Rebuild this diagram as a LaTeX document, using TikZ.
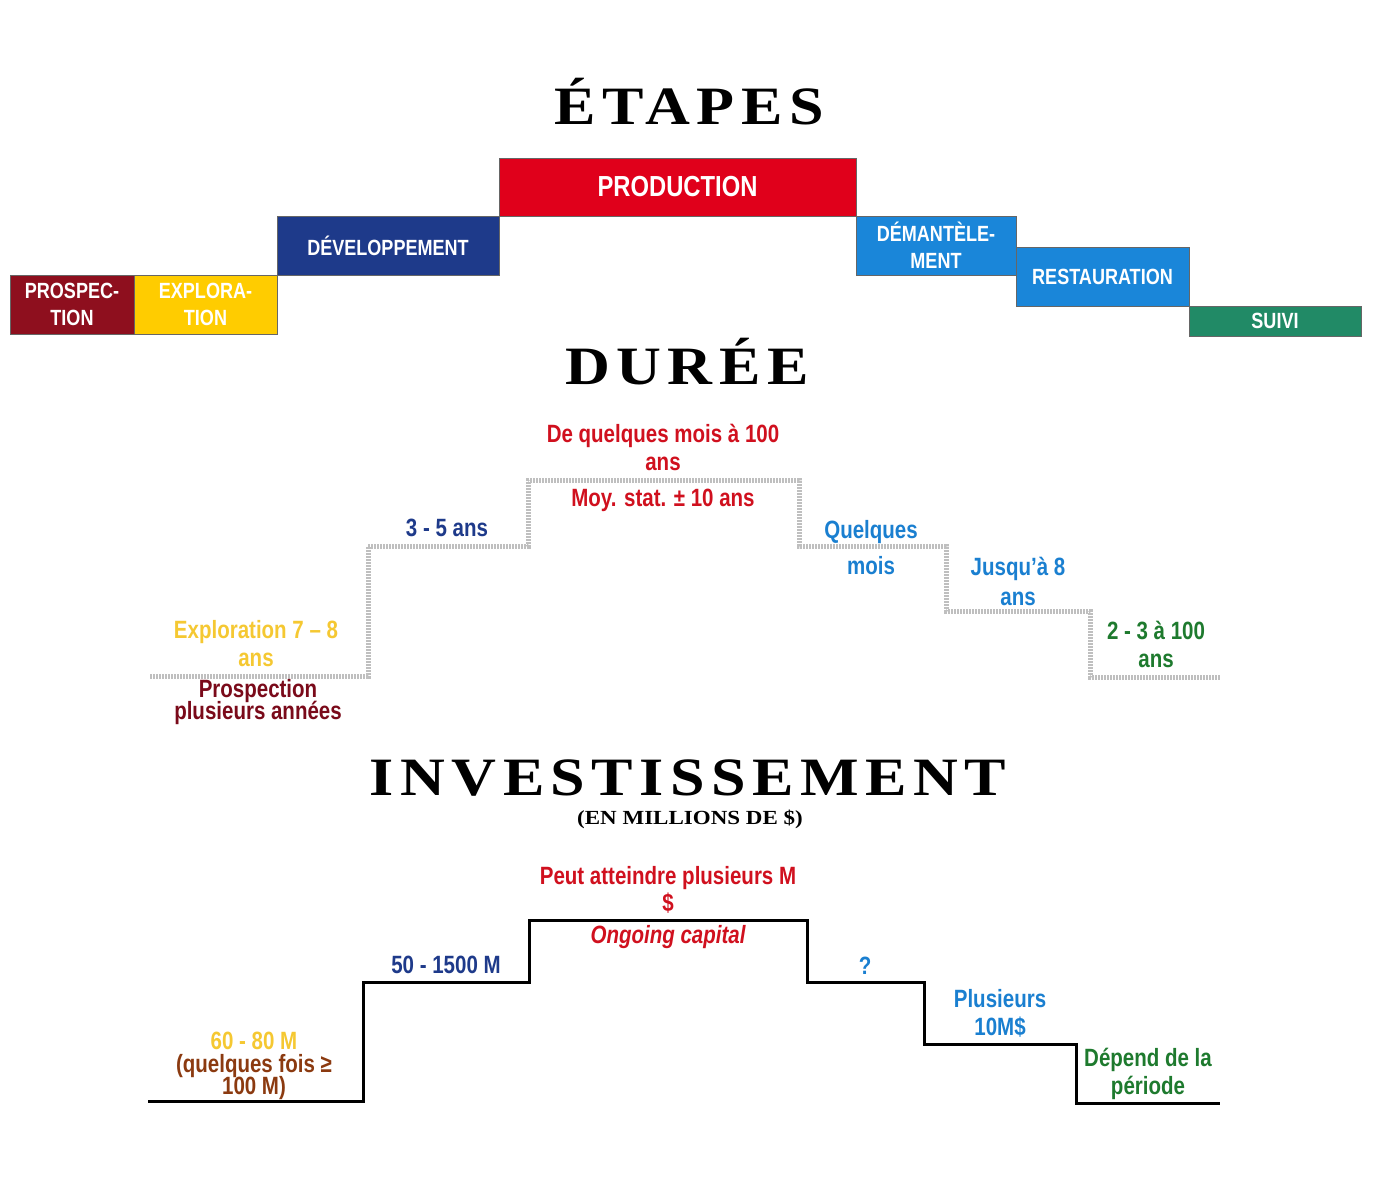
\documentclass[tikz,border=0pt]{standalone}
\usepackage{fontspec}
\setmainfont[FakeStretch=0.82]{Liberation Sans}
\newfontfamily\titlefont[FakeStretch=1.15,LetterSpace=12]{Liberation Serif}
\newfontfamily\subtitlefont[FakeStretch=1.15]{Liberation Serif}
\usetikzlibrary{positioning}

\definecolor{prospred}{RGB}{142,15,30}
\definecolor{exployellow}{RGB}{255,204,0}
\definecolor{devblue}{RGB}{30,58,138}
\definecolor{prodred}{RGB}{224,0,27}
\definecolor{demblue}{RGB}{26,134,217}
\definecolor{suivigreen}{RGB}{33,138,102}
\definecolor{txtred}{RGB}{208,16,30}
\definecolor{txtyellow}{RGB}{245,200,50}
\definecolor{txtdarkred}{RGB}{122,10,26}
\definecolor{txtblue}{RGB}{26,127,208}
\definecolor{txtgreen}{RGB}{30,122,46}
\definecolor{txtbrown}{RGB}{139,58,16}

\begin{document}
\setlength{\lineskiplimit}{-10pt}
\begin{tikzpicture}[x=0.5pt,y=-0.5pt,
  etape/.style={draw=black!60, line width=0.4pt, text=white, inner sep=0pt, outer sep=0pt, align=center,
    font=\bfseries\fontsize{11}{13.5}\selectfont, anchor=north west, minimum height=29.5pt},
  titre/.style={font=\titlefont\bfseries\fontsize{27}{30}\selectfont},
  lbl/.style={font=\bfseries\fontsize{12.5}{14}\selectfont, align=center},
  serre/.style={font=\bfseries\fontsize{12.5}{#1}\selectfont},
  duree/.style={draw=gray!50, line width=2.5pt, dash pattern=on 1pt off 0.5pt},
  invest/.style={draw=black, line width=1.5pt}
]
\useasboundingbox (0,0) rectangle (1374,1184);

\node[titre] (etapes) at (689,102) {ÉTAPES};
\node[titre] (duree) at (687,362) {DURÉE};
\node[titre] (investissement) at (688,778) {INVESTISSEMENT};
\node[font=\subtitlefont\bfseries\fontsize{10}{12}\selectfont] (millions) at (690,819) {(EN MILLIONS DE \$)};

\node[etape, fill=prospred, minimum width=62pt] (prosp) at (10,275) {PROSPEC-\\TION};
\node[etape, fill=exployellow, minimum width=71.5pt] (explo) at (prosp.north east) {EXPLORA-\\TION};
\node[etape, fill=devblue, minimum width=111pt, anchor=south west] (dev) at (explo.north east) {DÉVELOPPEMENT};
\node[etape, fill=prodred, minimum width=178.5pt, minimum height=29pt, anchor=south west,
  font=\bfseries\fontsize{14.5}{16}\selectfont] (prod) at (dev.north east) {PRODUCTION};
\node[etape, fill=demblue, minimum width=80pt] (dem) at (prod.south east) {DÉMANTÈLE-\\MENT};
\node[etape, fill=demblue, minimum width=86.5pt] (rest) at ([yshift=-15.5pt]dem.north east) {RESTAURATION};
\node[etape, fill=suivigreen, minimum width=86pt, minimum height=15pt] (suivi) at (rest.south east) {SUIVI};

\draw[duree] (150,676) -| (368,546) -| (528,480) -| (799,546) -| (946,611) -| (1090,677) -- (1220,677);

\node[lbl, text=txtred] (dq) at (663,447) {De quelques mois à 100\\ans};
\node[lbl, text=txtred] (moy) at (663,500) {Moy. stat. ± 10 ans};
\node[lbl, text=devblue] (tcans) at (447,528) {3 - 5 ans};
\node[lbl, text=txtblue, serre=18] (qmois) at (871,548) {Quelques\\mois};
\node[lbl, text=txtblue, serre=15] (jusq) at (1018,581) {Jusqu’à 8\\ans};
\node[lbl, text=txtgreen] (dtans) at (1156,644) {2 - 3 à 100\\ans};
\node[lbl, text=txtyellow] (exploans) at (256,643.5) {Exploration 7 – 8\\ans};
\node[lbl, text=txtdarkred, serre=11] (prospans) at (258,702) {Prospection\\plusieurs années};

\draw[invest] (148,1101) -| (363,982) -| (529,920) -| (807,982) -| (924,1044) -| (1076,1103) -- (1220,1103);

\node[lbl, text=txtred, serre=13.5] (peut) at (668,889.5) {Peut atteindre plusieurs M\\\$};
\node[lbl, text=txtred, font=\bfseries\itshape\fontsize{12.5}{14}\selectfont] (ongoing) at (668,937) {Ongoing capital};
\node[lbl, text=devblue] (cinq) at (446,965) {50 - 1500 M};
\node[lbl, text=txtblue] (inconnu) at (865,966) {?};
\node[lbl, text=txtblue] (plus) at (1000,1013) {Plusieurs\\10M\$};
\node[lbl, text=txtgreen] (depend) at (1148,1074) {Dépend de la\\période};
\node[lbl, text=txtyellow] (soixante) at (254,1041) {60 - 80 M};
\node[lbl, text=txtbrown, serre=11] (fois) at (254,1077) {(quelques fois ≥\\100 M)};

\end{tikzpicture}
\end{document}
